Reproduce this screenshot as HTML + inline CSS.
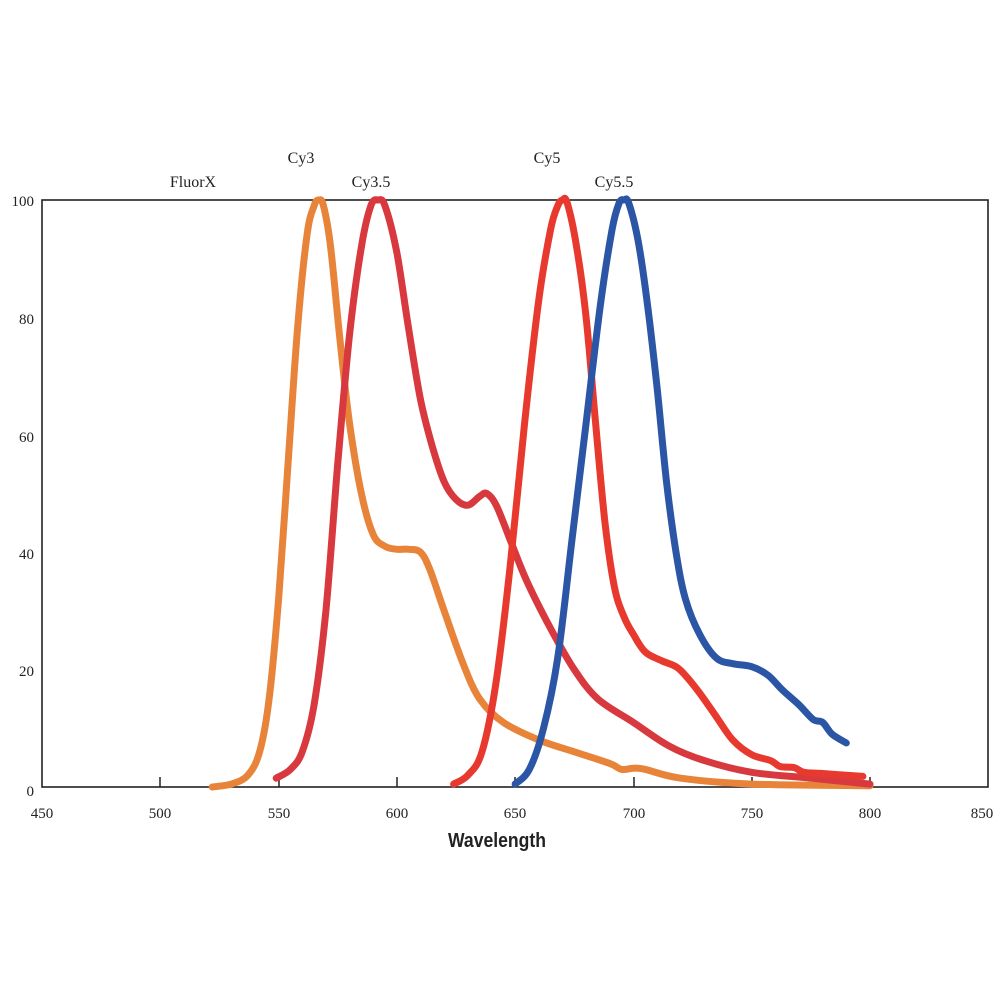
<!DOCTYPE html>
<html><head><meta charset="utf-8"><style>
html,body{margin:0;padding:0;background:#fff;width:1000px;height:1000px;overflow:hidden}
</style></head><body>
<svg id="s" width="1000" height="1000" viewBox="0 0 1000 1000" xmlns="http://www.w3.org/2000/svg">
<rect x="42" y="200" width="946" height="587" fill="none" stroke="#222" stroke-width="1.6"/>
<g stroke="#222" stroke-width="1.5">
<line x1="160" y1="777" x2="160" y2="787"/><line x1="279" y1="777" x2="279" y2="787"/>
<line x1="397" y1="777" x2="397" y2="787"/><line x1="515" y1="777" x2="515" y2="787"/>
<line x1="634" y1="777" x2="634" y2="787"/><line x1="752" y1="777" x2="752" y2="787"/>
<line x1="870" y1="777" x2="870" y2="787"/>
</g>
<g font-family="Liberation Serif, serif" font-size="15" fill="#222" text-anchor="middle">
<text x="42" y="818">450</text><text x="160" y="818">500</text><text x="279" y="818">550</text>
<text x="397" y="818">600</text><text x="515" y="818">650</text><text x="634" y="818">700</text>
<text x="752" y="818">750</text><text x="870" y="818">800</text><text x="982" y="818">850</text>
</g>
<g font-family="Liberation Serif, serif" font-size="15" fill="#222" text-anchor="end">
<text x="34" y="206">100</text><text x="34" y="324">80</text><text x="34" y="442">60</text>
<text x="34" y="559">40</text><text x="34" y="676">20</text><text x="34" y="796">0</text>
</g>
<g font-family="Liberation Serif, serif" font-size="16" fill="#222" text-anchor="middle">
<text x="193" y="187">FluorX</text><text x="301" y="163">Cy3</text><text x="371" y="187">Cy3.5</text>
<text x="547" y="163">Cy5</text><text x="614" y="187">Cy5.5</text>
</g>
<text x="497" y="847" font-family="Liberation Sans, sans-serif" font-weight="bold" font-size="20" fill="#222" text-anchor="middle" transform="translate(497 0) scale(0.88 1) translate(-497 0)">Wavelength</text>
<g id="curves" fill="none" stroke-width="7" stroke-linecap="round" stroke-linejoin="round"></g>
</svg>
<script>
function X(n){return 42+(n-450)*2.3657}
function Y(v){return 787-v*5.87}
function path(pts){
 var p=pts.map(function(a){return [X(a[0]),Y(a[1])]});
 var d="M"+p[0][0].toFixed(1)+","+p[0][1].toFixed(1);
 for(var i=0;i<p.length-1;i++){
  var p0=p[i-1]||p[i],p1=p[i],p2=p[i+1],p3=p[i+2]||p2;
  var c1=[p1[0]+(p2[0]-p0[0])/6,p1[1]+(p2[1]-p0[1])/6];
  var c2=[p2[0]-(p3[0]-p1[0])/6,p2[1]-(p3[1]-p1[1])/6];
  d+="C"+c1[0].toFixed(1)+","+c1[1].toFixed(1)+" "+c2[0].toFixed(1)+","+c2[1].toFixed(1)+" "+p2[0].toFixed(1)+","+p2[1].toFixed(1);
 }
 return d;
}
var S=[
["#E8843A",[[522,0],[530,0.5],[537,2],[542,6],[546,15],[550,32],[554,55],[558,78],[562,94],[565,99],[567,100],[569,99],[572,92],[576,76],[580,62],[585,50],[590,43],[595,41],[600,40.5],[605,40.5],[610,40],[614,37],[620,30],[628,21],[635,15],[645,11],[660,8],[675,6],[690,4],[695,3],[700,3.2],[705,3],[720,1.5],[750,0.5],[800,0.2]]],
["#D8393F",[[549,1.5],[555,3],[560,6],[565,14],[570,30],[575,55],[580,77],[585,92],[589,99],[592,100],[595,99],[600,91],[605,78],[610,66],[615,58],[620,52],[625,49],[630,48],[635,49.5],[638,50],[642,48],[648,42],[655,35],[665,27],[675,20],[685,15],[700,11],[715,7],[730,4.5],[750,2.5],[775,1.5],[800,0.5]]],
["#E8392E",[[624,0.5],[630,2],[636,6],[642,18],[648,38],[654,62],[660,83],[665,95],[668,99],[670,100],[672,99.5],[676,92],[680,80],[684,62],[688,45],[692,34],[696,29],[700,26],[705,23],[712,21.5],[718,20.5],[722,19],[728,16],[735,12],[742,8],[750,5.5],[758,4.5],[762,3.5],[768,3.3],[772,2.5],[780,2.3],[790,2],[797,1.8]]],
["#2B55A5",[[650,0.5],[656,3],[662,10],[668,22],[674,42],[680,62],[686,82],[691,95],[694,99.5],[696,100],[698,99.5],[702,93],[706,82],[710,68],[714,52],[718,40],[722,32],[728,26],[735,22],[742,21],[750,20.5],[757,19],[763,16.5],[770,14],[776,11.5],[780,11],[784,9],[790,7.5]]]
];
var g=document.getElementById("curves"),h="";
S.forEach(function(s){h+='<path d="'+path(s[1])+'" stroke="'+s[0]+'"/>'});
g.innerHTML=h;
</script>
</body></html>
